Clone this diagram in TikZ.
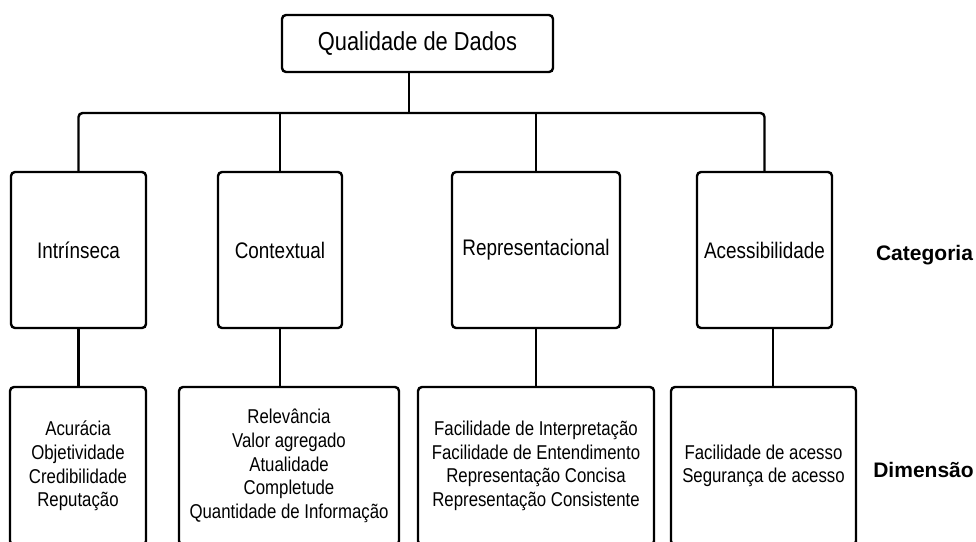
\documentclass[tikz,border=0pt]{standalone}
\usepackage{fontspec}
\setmainfont[FakeStretch=0.84]{Liberation Sans}
\newfontfamily\labelfont{Liberation Sans}
\usetikzlibrary{arrows}

\begin{document}
\begin{tikzpicture}[x=1pt,y=-1pt,line width=2.4pt,
    box/.style={draw,rounded corners=4pt,inner sep=0pt,align=center},
    cat/.style={box,minimum height=156pt,font=\fontsize{22.5}{26}\selectfont},
    dim/.style={box,minimum height=158pt,font=\fontsize{20}{23.7}\selectfont},
    lbl/.style={font=\labelfont\bfseries\fontsize{21}{25}\selectfont}]
            \useasboundingbox (0,0) rectangle (976,541);
            % \tikzstyle{every node}=[fill=white]

            \node[box,minimum width=271pt,minimum height=57pt,font=\fontsize{26}{30}\selectfont] (QD) at (417.5,43.5) {Qualidade de Dados};
            \coordinate (hub) at (409,113);

            \node[cat,minimum width=135pt] (I) at (78.5,250)  {Intrínseca};
            \node[cat,minimum width=124pt] (C) at (280,250)   {Contextual};
            \node[cat,minimum width=168pt] (R) at (536,250)   {Representacional};
            \node[cat,minimum width=135pt] (A) at (764.5,250) {Acessibilidade};

            \node[dim,minimum width=136pt] (DI) at (78,466)    {Acurácia\\Objetividade\\Credibilidade\\Reputação};
            \node[dim,minimum width=220pt] (DC) at (289,466)   {Relevância\\Valor agregado\\Atualidade\\Completude\\Quantidade de Informação};
            \node[dim,minimum width=236pt] (DR) at (536,466)   {Facilidade de Interpretação\\Facilidade de Entendimento\\Representação Concisa\\Representação Consistente};
            \node[dim,minimum width=185pt] (DA) at (763.5,466) {Facilidade de acesso\\Segurança de acesso};

            \node[lbl] (cat) at (924.5,255) {Categoria};
            \node[lbl] (dimen) at (923.5,470) {Dimensão};

            \draw (QD.south -| hub) -- (hub);
            \draw[rounded corners=4pt] (I.north) |- (hub) -| (A.north);
            \draw (C.north) -- (C.north |- hub)
                  (R.north) -- (R.north |- hub);

            \draw (I.south) -- (I.south |- DI.north)
                  (C.south) -- (C.south |- DC.north)
                  (R.south) -- (R.south |- DR.north)
                  ([xshift=8.5pt]A.south) -- ([xshift=8.5pt]A.south |- DA.north);
        \end{tikzpicture}
\end{document}
